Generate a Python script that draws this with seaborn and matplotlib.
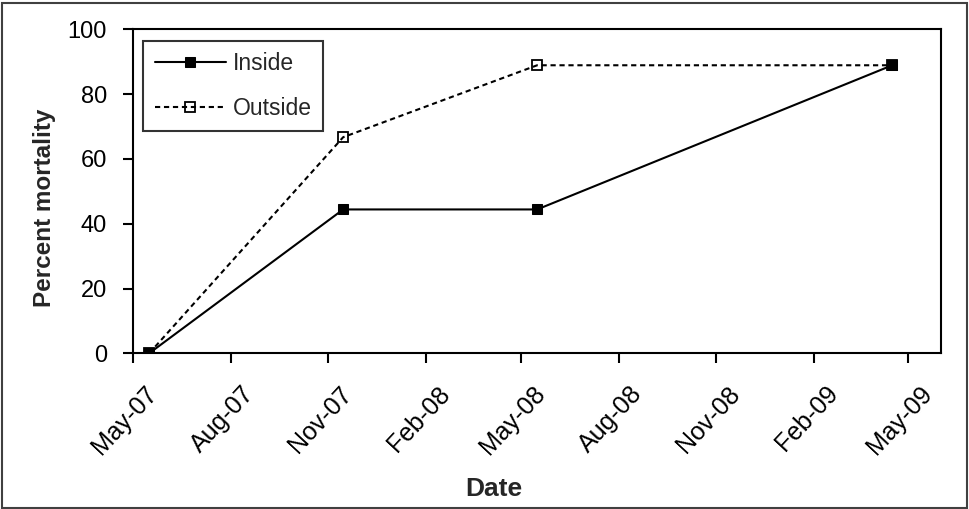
import pandas as pd
import matplotlib
matplotlib.use('Agg')
import matplotlib.pyplot as plt
import matplotlib.dates as mdates
import matplotlib.transforms as mtransforms
from matplotlib.patches import Rectangle
import seaborn as sns

# data
dates = ['2007-05-16', '2007-11-15', '2008-05-16', '2009-04-16']
inside = [0, 44.4, 44.4, 88.9]
outside = [0, 66.7, 88.9, 88.9]

df = pd.DataFrame({
    'date': pd.to_datetime(dates * 2),
    'pct': inside + outside,
    'where': ['Inside'] * len(dates) + ['Outside'] * len(dates),
})

sns.set_style('white')
plt.rcParams['font.family'] = ['Liberation Sans', 'DejaVu Sans']

fig = plt.figure(figsize=(9.69, 5.09), dpi=100)
ax = fig.add_axes([133.3 / 969, 1 - 353.3 / 509, (941 - 133.3) / 969, (353.3 - 29.3) / 509])

# outside first so the filled inside marker sits on top at the last point
sns.lineplot(data=df[df['where'] == 'Outside'], x='date', y='pct', ax=ax,
             color='black', linewidth=1.5, linestyle=(0, (2.5, 1.8)),
             marker='s', markersize=7, markerfacecolor='none', markeredgecolor='black',
             markeredgewidth=1.3, label='Outside', legend=False)
sns.lineplot(data=df[df['where'] == 'Inside'], x='date', y='pct', ax=ax,
             color='black', linewidth=1.5, marker='s', markersize=7.5,
             markerfacecolor='black', markeredgecolor='black', label='Inside', legend=False)

ax.set_xlim(pd.Timestamp('2007-05-01'), pd.Timestamp('2009-06-01'))
ax.set_ylim(0, 100)
ax.set_yticks([0, 20, 40, 60, 80, 100])
ax.xaxis.set_major_locator(mdates.MonthLocator(bymonth=[2, 5, 8, 11]))
ax.xaxis.set_major_formatter(mdates.DateFormatter('%b-%y'))

for s in ax.spines.values():
    s.set_color('black')
    s.set_linewidth(1.5)

ax.tick_params(axis='both', which='major', direction='out', length=7, width=1.5,
               color='black', labelsize=17, labelcolor='black', left=True, bottom=True)
ax.tick_params(axis='y', pad=12)
ax.tick_params(axis='x', pad=4, labelsize=18)

# excel-style offset of the slanted date labels
offset = mtransforms.ScaledTranslation(11 / 100, -13 / 100, fig.dpi_scale_trans)
for lab in ax.get_xticklabels():
    lab.set_rotation(47)
    lab.set_ha('right')
    lab.set_va('top')
    lab.set_rotation_mode('anchor')
    lab.set_transform(lab.get_transform() + offset)

ax.set_xlabel('Date', fontsize=19, fontweight='bold')
ax.set_ylabel('Percent mortality', fontsize=17.5, fontweight='bold')
ax.xaxis.set_label_coords(0.4466, -0.382)
ax.yaxis.set_label_coords(-0.0957, 0.45)

lines = ax.get_lines()
h_in = [l for l in lines if l.get_label() == 'Inside'][0]
h_out = [l for l in lines if l.get_label() == 'Outside'][0]
leg = ax.legend([h_in, h_out], ['Inside', 'Outside'], loc='upper left',
                bbox_to_anchor=(10 / 807.7, 1 - 11.4 / 324), fontsize=16.5,
                frameon=True, fancybox=False, edgecolor='black', handlelength=3.1,
                handletextpad=0.3, borderpad=0.5, labelspacing=0.95, borderaxespad=0)
leg.get_frame().set_linewidth(1.5)

# chart area border
fig.patches.append(Rectangle((1.5 / 969, 1.5 / 509), 965 / 969, 505 / 509,
                             transform=fig.transFigure, fill=False,
                             edgecolor='#404040', linewidth=1.5))

fig.savefig('out.png', dpi=100)
